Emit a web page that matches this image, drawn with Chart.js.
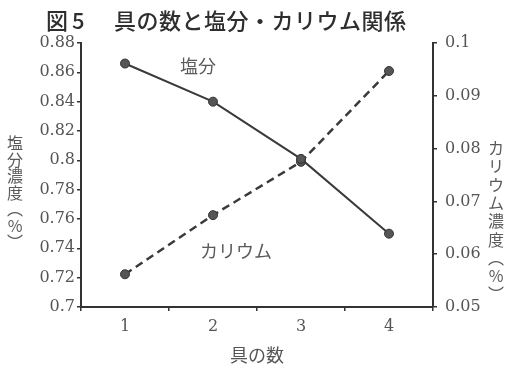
<!DOCTYPE html>
<html>
<head>
<meta charset="utf-8">
<script src="https://cdn.jsdelivr.net/npm/chart.js@4.4.1/dist/chart.umd.min.js"></script>
<style>
  html, body { margin: 0; padding: 0; background: #fff; }
  canvas { display: block; }
</style>
</head>
<body>
<canvas id="chart" width="506" height="366"></canvas>
<script>
// === DATA ===
const counts = ['1', '2', '3', '4'];
const saltValues = [0.866, 0.840, 0.801, 0.750];
const potassiumValues = [0.0562, 0.0674, 0.0775, 0.0947];
const saltRange = [0.7, 0.88, 0.02];     // min, max, step
const potassiumRange = [0.05, 0.1, 0.01];

const figLabel = ['図', '5'];
const titleText = '具の数と塩分・カリウム関係';
const saltAxisTitle = ['塩', '分', '濃', '度', '︵', '%', '︶'];
const potassiumAxisTitle = ['カ', 'リ', 'ウ', 'ム', '濃', '度', '︵', '%', '︶'];

const jpFont = "'Noto Sans CJK JP', sans-serif";
const numFont = "'DejaVu Serif', 'Liberation Serif', serif";

// title, vertical axis titles and the labels inside the plot
const textPlugin = {
  id: 'textPlugin',
  afterDraw(chart) {
    const ctx = chart.ctx;
    const area = chart.chartArea;
    const x = chart.scales.x;
    const yL = chart.scales.y;
    ctx.save();
    ctx.textBaseline = 'middle';

    // title (left aligned like the printed figure)
    ctx.textAlign = 'left';
    ctx.fillStyle = '#2e2e2e';
    ctx.font = '500 22px ' + jpFont;
    ctx.fillText(figLabel[0], area.left - 35, 21);
    ctx.fillText(figLabel[1], area.left - 9, 21);
    [...titleText].forEach((ch, i) => {
      ctx.fillText(ch, area.left + 33 + i * 22.5, 21);
    });

    ctx.textAlign = 'center';
    ctx.fillStyle = '#5a5a5a';
    ctx.font = '16px ' + jpFont;
    saltAxisTitle.forEach((ch, i) => {
      ctx.fillText(ch, area.left - 66, 143 + i * 16.5);
    });
    potassiumAxisTitle.forEach((ch, i) => {
      ctx.fillText(ch, area.right + 63, 148 + i * 18.3);
    });

    ctx.font = '18px ' + jpFont;
    ctx.fillText('塩分', x.getPixelForValue(0.83), yL.getPixelForValue(0.864));
    ctx.fillText('カリウム', x.getPixelForValue(1.26), yL.getPixelForValue(0.738));
    ctx.restore();
  }
};

const axisGrid = { drawOnChartArea: false, drawTicks: true, tickLength: 4, color: '#333', lineWidth: 1.5 };
const axisBorder = { display: true, color: '#333', width: 2 };
const trimNum = v => String(+v.toFixed(3));

new Chart(document.getElementById('chart'), {
  type: 'line',
  data: {
    labels: counts,
    datasets: [{
      label: '塩分',
      data: saltValues,
      yAxisID: 'y',
      borderColor: '#3a3a3a',
      borderWidth: 2,
      pointRadius: 4.5,
      pointBackgroundColor: '#555',
      pointBorderColor: '#333',
      pointBorderWidth: 1,
      tension: 0
    }, {
      label: 'カリウム',
      data: potassiumValues,
      yAxisID: 'y1',
      borderColor: '#3a3a3a',
      borderWidth: 2.5,
      borderDash: [8, 5],
      pointRadius: 4.5,
      pointBackgroundColor: '#555',
      pointBorderColor: '#333',
      pointBorderWidth: 1,
      tension: 0
    }]
  },
  options: {
    responsive: false,
    animation: false,
    layout: { padding: { left: 0, right: 0, top: 43, bottom: 0 } },
    plugins: {
      legend: { display: false },
      tooltip: { enabled: false },
      title: { display: false }
    },
    scales: {
      x: {
        offset: true,
        grid: { ...axisGrid, offset: true },
        border: axisBorder,
        ticks: { color: '#555', padding: 6, font: { family: numFont, size: 16 } },
        title: {
          display: true,
          text: '具の数',
          color: '#555',
          font: { family: jpFont, size: 18 },
          padding: { top: 0, bottom: 0 }
        },
        afterFit(scale) { scale.height = 59; }
      },
      y: {
        position: 'left',
        min: saltRange[0],
        max: saltRange[1],
        grid: axisGrid,
        border: axisBorder,
        ticks: { stepSize: saltRange[2], color: '#555', padding: 2, font: { family: numFont, size: 16 }, callback: trimNum },
        afterFit(scale) { scale.width = 81; }
      },
      y1: {
        position: 'right',
        min: potassiumRange[0],
        max: potassiumRange[1],
        grid: axisGrid,
        border: axisBorder,
        ticks: { stepSize: potassiumRange[2], color: '#555', padding: 8, font: { family: numFont, size: 16 }, callback: trimNum },
        afterFit(scale) { scale.width = 73; }
      }
    }
  },
  plugins: [textPlugin]
});
</script>
</body>
</html>
